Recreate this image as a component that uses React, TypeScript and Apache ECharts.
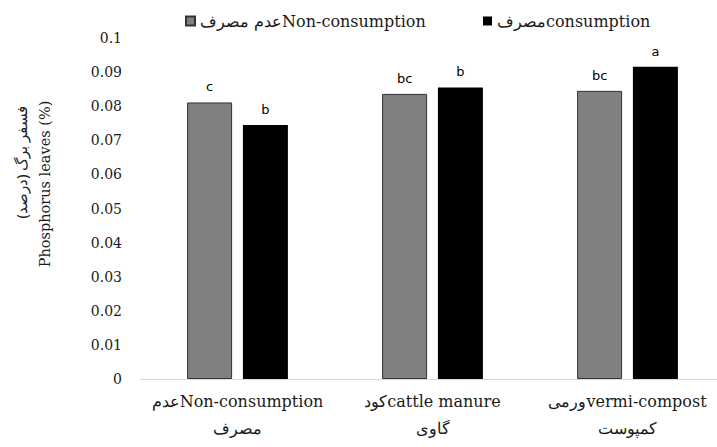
import React, { useEffect, useRef } from "react";
import * as echarts from "echarts";

const categories = [
  "عدمNon-consumption\nمصرف",
  "کودcattle manure\nگاوی",
  "ورمیvermi-compost\nکمپوست",
];
const seriesNames = ["عدم مصرفNon-consumption", "مصرفconsumption"];
const nonConsumption = [0.0811, 0.0836, 0.0845];
const consumption = [0.0745, 0.0855, 0.0916];
const nonConsumptionLetters = ["c", "bc", "bc"];
const consumptionLetters = ["b", "b", "a"];

export default function App() {
  const ref = useRef<HTMLDivElement>(null);
  useEffect(() => {
    if (!ref.current) return;
    const chart = echarts.init(ref.current, null, { renderer: "svg" });
    const serif = "DejaVu Serif";
    const labelStyle = (letters: string[]) => ({
      show: true,
      position: "top" as const,
      distance: 9,
      fontFamily: "DejaVu Sans",
      fontSize: 13,
      color: "#000",
      formatter: (p: any) => letters[p.dataIndex],
    });
    const legendBase = {
      top: 8,
      itemWidth: 9,
      itemHeight: 9,
      itemGap: 6,
      icon: "rect",
      textStyle: { fontFamily: serif, fontSize: 16, color: "#1a1a1a" },
    };
    chart.setOption({
      animation: false,
      backgroundColor: "#fff",
      grid: {
        left: 140,
        width: 585,
        top: 38,
        bottom: 68,
        outerBoundsMode: "none",
        containLabel: false,
      },
      legend: [
        { ...legendBase, left: 180, data: [seriesNames[0]] },
        { ...legendBase, left: 478, data: [seriesNames[1]] },
      ],
      xAxis: {
        type: "category",
        data: categories,
        axisLine: { lineStyle: { color: "#d9d9d9", width: 1 } },
        axisTick: { show: false },
        axisLabel: {
          fontFamily: serif,
          fontSize: 16,
          color: "#1a1a1a",
          margin: 9,
          lineHeight: 27,
          interval: 0,
        },
      },
      yAxis: {
        type: "value",
        min: 0,
        max: 0.1,
        interval: 0.01,
        splitLine: { show: false },
        axisLine: { show: false },
        axisTick: { show: false },
        axisLabel: {
          fontFamily: serif,
          fontSize: 14,
          color: "#1a1a1a",
          margin: 18,
          formatter: (v: number) => String(Math.round(v * 100) / 100),
        },
      },
      graphic: [
        {
          type: "text",
          x: 21,
          y: 162,
          rotation: Math.PI / 2,
          style: {
            text: "فسفر برگ (درصد)\u200F",
            fontSize: 15,
            fontFamily: "Noto Sans",
            fill: "#222",
            align: "center",
            verticalAlign: "middle",
          },
        },
        {
          type: "text",
          x: 45,
          y: 184,
          rotation: Math.PI / 2,
          style: {
            text: "Phosphorus leaves (%)",
            fontSize: 14.5,
            fontFamily: serif,
            fill: "#1a1a1a",
            align: "center",
            verticalAlign: "middle",
          },
        },
      ],
      series: [
        {
          name: seriesNames[0],
          type: "bar",
          data: nonConsumption,
          barWidth: 45,
          barGap: "24%",
          itemStyle: { color: "#808080", borderColor: "#333", borderWidth: 1 },
          label: labelStyle(nonConsumptionLetters),
        },
        {
          name: seriesNames[1],
          type: "bar",
          data: consumption,
          barWidth: 45,
          itemStyle: { color: "#000" },
          label: labelStyle(consumptionLetters),
        },
      ],
    });
    return () => chart.dispose();
  }, []);
  return (
    <div
      ref={ref}
      style={{ position: "fixed", left: 0, top: 0, width: 717, height: 447 }}
    />
  );
}
